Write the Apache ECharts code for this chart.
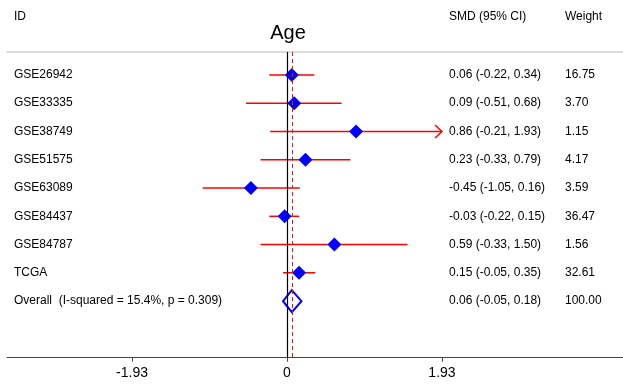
<!DOCTYPE html>
<html>
<head>
<meta charset="utf-8">
<script src="https://cdn.jsdelivr.net/npm/echarts@6/dist/echarts.min.js"></script>
<style>
html,body{margin:0;padding:0;background:#fff;}
#chart{width:623px;height:384px;}
</style>
</head>
<body>
<div id="chart"></div>
<script>
// ---- data ----
var ids = ['GSE26942','GSE33335','GSE38749','GSE51575','GSE63089','GSE84437','GSE84787','TCGA'];
var smd = [0.06, 0.09, 0.86, 0.23, -0.45, -0.03, 0.59, 0.15];
var lower = [-0.22, -0.51, -0.21, -0.33, -1.05, -0.22, -0.33, -0.05];
var upper = [0.34, 0.68, 1.93, 0.79, 0.16, 0.15, 1.50, 0.35];
var weights = [16.75, 3.70, 1.15, 4.17, 3.59, 36.47, 1.56, 32.61];
var overallLabel = 'Overall  (I-squared = 15.4%, p = 0.309)';
var overallSmd = 0.06, overallLower = -0.05, overallUpper = 0.18, overallWeight = 100.00;
var xTicks = [-1.93, 0, 1.93];
var clipMax = 1.93;
var title = 'Age';

var FONT = '"Liberation Sans", Arial, sans-serif';
var rows = [];
for (var i = 0; i < ids.length; i++) {
  rows.push([i, smd[i], lower[i], upper[i], weights[i], ids[i], 0]);
}
rows.push([ids.length, overallSmd, overallLower, overallUpper, overallWeight, overallLabel, 1]);

function ciText(m, l, u) {
  return m.toFixed(2) + ' (' + l.toFixed(2) + ', ' + u.toFixed(2) + ')';
}

var chart = echarts.init(document.getElementById('chart'), null, {renderer: 'canvas'});
var option = {
  animation: false,
  backgroundColor: '#fff',
  grid: {left: 7, right: 0, top: 52, bottom: 26.3, containLabel: false, outerBoundsMode: 'none'},
  xAxis: [{
    type: 'value', min: -3.487, max: 4.184, position: 'bottom',
    splitLine: {show: false},
    axisLine: {show: true, onZero: false, lineStyle: {color: '#444', width: 1}},
    axisTick: {show: true, length: 4, customValues: xTicks, lineStyle: {color: '#444'}},
    axisLabel: {show: true, customValues: xTicks, margin: 8, fontSize: 14, color: '#000', fontFamily: FONT,
      formatter: function (v) { return v === 0 ? '0' : v.toFixed(2); }}
  }, {
    type: 'value', min: -3.487, max: 4.184, position: 'top',
    splitLine: {show: false},
    axisLine: {show: true, onZero: false, lineStyle: {color: '#cfcfcf', width: 1.5}},
    axisTick: {show: false}, axisLabel: {show: false}
  }],
  yAxis: {type: 'value', inverse: true, min: -0.81, max: 10.0, show: false},
  graphic: [
    {type: 'text', left: 14, top: 11, style: {text: 'ID', font: '12px ' + FONT, fill: '#000'}},
    {type: 'text', left: 449, top: 11, style: {text: 'SMD (95% CI)', font: '12px ' + FONT, fill: '#000'}},
    {type: 'text', left: 565, top: 11, style: {text: 'Weight', font: '12px ' + FONT, fill: '#000'}},
    {type: 'text', x: 288, y: 33, style: {text: title, font: '20px ' + FONT, fill: '#000', align: 'center', verticalAlign: 'middle'}}
  ],
  series: [{
    type: 'custom',
    xAxisIndex: 0,
    yAxisIndex: 0,
    data: rows,
    clip: false,
    encode: {x: [1, 2, 3], y: 0},
    renderItem: function (params, api) {
      var row = api.value(0);
      var m = api.value(1), l = api.value(2), u = api.value(3), w = api.value(4);
      var isOverall = api.value(6) === 1;
      var label = rows[params.dataIndex][5];
      var c = api.coord([m, row]);
      var pl = api.coord([l, row]);
      var pu = api.coord([Math.min(u, clipMax), row]);
      var y = c[1];
      var children = [];
      if (!isOverall) {
        children.push({type: 'line', shape: {x1: pl[0], y1: y, x2: pu[0], y2: y},
          style: {stroke: '#ff0000', lineWidth: 1.5}});
        if (u >= clipMax) {
          children.push({type: 'polyline', shape: {points: [[pu[0] - 7, y - 6.5], [pu[0], y], [pu[0] - 7, y + 6.5]]},
            style: {stroke: '#ff0000', lineWidth: 1.5, fill: null}});
        }
        var h = 7;
        children.push({type: 'polygon', shape: {points: [[c[0], y - h], [c[0] + h, y], [c[0], y + h], [c[0] - h, y]]},
          style: {fill: '#0000ff', stroke: null}});
      } else {
        var hh = 11;
        children.push({type: 'polygon', shape: {points: [[c[0], y - hh], [pu[0], y], [c[0], y + hh], [pl[0], y]]},
          style: {fill: null, stroke: '#0000ff', lineWidth: 2}});
      }
      children.push({type: 'text', x: 14, y: y, style: {text: label, font: '12px ' + FONT, fill: '#000', verticalAlign: 'middle'}});
      children.push({type: 'text', x: 449, y: y, style: {text: ciText(m, l, u), font: '12px ' + FONT, fill: '#000', verticalAlign: 'middle'}});
      children.push({type: 'text', x: 565, y: y, style: {text: w.toFixed(2), font: '12px ' + FONT, fill: '#000', verticalAlign: 'middle'}});
      return {type: 'group', children: children};
    },
    markLine: {
      silent: true, symbol: 'none', label: {show: false},
      data: [
        {xAxis: 0, lineStyle: {color: '#000', type: 'solid', width: 1.2}},
        {xAxis: overallSmd, lineStyle: {color: '#a83030', type: [4, 3], width: 1}}
      ]
    },
    z: 3
  }]
};
chart.setOption(option);
</script>
</body>
</html>
